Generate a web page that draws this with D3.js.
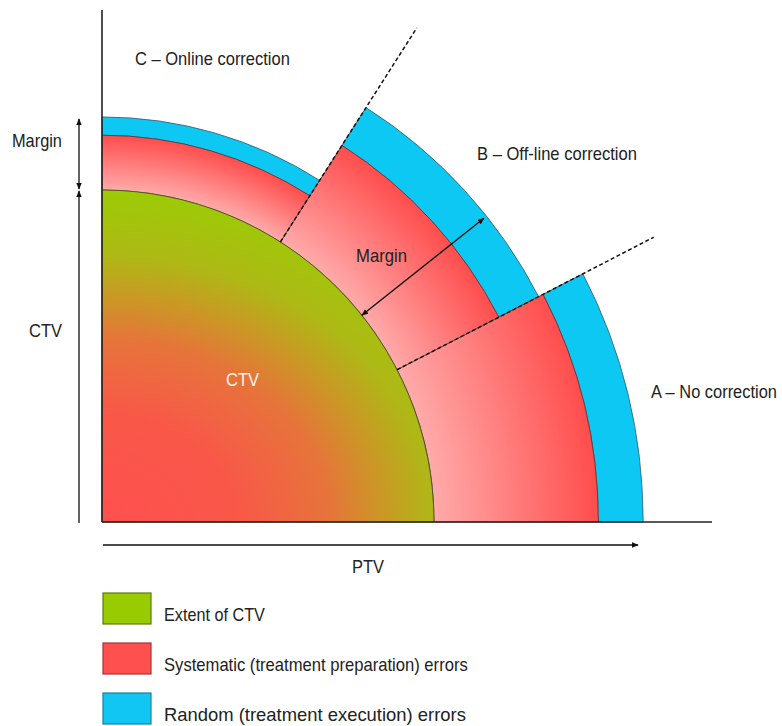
<!DOCTYPE html>
<html><head><meta charset="utf-8">
<script src="https://cdn.jsdelivr.net/npm/d3@7"></script>
<style>body{margin:0;background:#fff}svg{display:block}</style>
</head><body>
<script>
// ---- data (relative units: CTV radius = 100) ----
const sectors = ["A – No correction", "B – Off-line correction", "C – Online correction"];
const sectorFromDeg = [0, 27.3, 57.5];     // angle measured from PTV axis
const sectorToDeg = [27.3, 57.5, 90];
const ctvExtent = 100;
const systematicOuter = [149.5, 134.5, 116.5];
const randomOuter = [163, 148, 122];
const legendLabels = ["Extent of CTV", "Systematic (treatment preparation) errors", "Random (treatment execution) errors"];
const axisLabels = ["PTV", "CTV", "Margin"];

// ---- layout ----
const W = 782, H = 726;
const ox = 102, oy = 522;
const r = d3.scaleLinear().domain([0, 100]).range([0, 332]);
const rad = d => d * Math.PI / 180;
const font = "'Liberation Sans', Arial, sans-serif";

const svg = d3.select("body").append("svg").attr("width", W).attr("height", H);
const defs = svg.append("defs");

// arrow markers
function marker(id) {
  defs.append("marker").attr("id", id).attr("viewBox", "0 -5 10 10")
    .attr("refX", 9).attr("refY", 0).attr("markerWidth", 7).attr("markerHeight", 7)
    .attr("orient", "auto-start-reverse").attr("markerUnits", "userSpaceOnUse")
    .append("path").attr("d", "M0,-4L10,0L0,4Z").attr("fill", "#111");
}
marker("arr");

// CTV gradient
const cg = defs.append("radialGradient").attr("id", "ctvGrad")
  .attr("gradientUnits", "userSpaceOnUse").attr("cx", 0).attr("cy", 0).attr("r", r(ctvExtent))
  .attr("gradientTransform", "scale(1.25,1)");
[[0, "#ff5050"], [0.33, "#f85848"], [0.55, "#e6743a"], [0.67, "#cc9626"], [0.8, "#aeb816"], [1, "#9ccb05"]]
  .forEach(([o, c]) => cg.append("stop").attr("offset", o).attr("stop-color", c));

// systematic band gradients
systematicOuter.forEach((v, i) => {
  const g = defs.append("radialGradient").attr("id", "sysGrad" + i)
    .attr("gradientUnits", "userSpaceOnUse").attr("cx", 0).attr("cy", 0).attr("r", r(v));
  g.append("stop").attr("offset", ctvExtent / v).attr("stop-color", "#ffaaaa");
  g.append("stop").attr("offset", 1).attr("stop-color", "#ff4d4d");
});

const g = svg.append("g").attr("transform", `translate(${ox},${oy})`);
const arc = d3.arc();
const arcAngles = i => ({ startAngle: Math.PI / 2 - rad(sectorToDeg[i]), endAngle: Math.PI / 2 - rad(sectorFromDeg[i]) });

// random error bands
sectors.forEach((s, i) => {
  g.append("path").attr("d", arc({ ...arcAngles(i), innerRadius: r(systematicOuter[i]), outerRadius: r(randomOuter[i]) }))
    .attr("fill", "#0ec8f4").attr("stroke", "#335566").attr("stroke-width", 0.8);
});
// systematic bands
sectors.forEach((s, i) => {
  g.append("path").attr("d", arc({ ...arcAngles(i), innerRadius: r(ctvExtent), outerRadius: r(systematicOuter[i]) }))
    .attr("fill", `url(#sysGrad${i})`).attr("stroke", "#553333").attr("stroke-width", 0.8);
});
// CTV
g.append("path").attr("d", arc({ startAngle: 0, endAngle: Math.PI / 2, innerRadius: 0, outerRadius: r(ctvExtent) }))
  .attr("fill", "url(#ctvGrad)").attr("stroke", "#444422").attr("stroke-width", 0.8);

// dashed sector boundaries
const boundaryEnd = [187, 176.5];
[sectorToDeg[0], sectorToDeg[1]].forEach((a, i) => {
  g.append("line")
    .attr("x1", r(ctvExtent) * Math.cos(rad(a))).attr("y1", -r(ctvExtent) * Math.sin(rad(a)))
    .attr("x2", r(boundaryEnd[i]) * Math.cos(rad(a))).attr("y2", -r(boundaryEnd[i]) * Math.sin(rad(a)))
    .attr("stroke", "#111").attr("stroke-width", 1.5).attr("stroke-dasharray", "4,2.5");
});

// margin arrow in sector B
const ma = 38.5;
g.append("line")
  .attr("x1", r(ctvExtent) * Math.cos(rad(ma))).attr("y1", -r(ctvExtent) * Math.sin(rad(ma)))
  .attr("x2", r(randomOuter[1] - 1) * Math.cos(rad(ma))).attr("y2", -r(randomOuter[1] - 1) * Math.sin(rad(ma)))
  .attr("stroke", "#111").attr("stroke-width", 1.4)
  .attr("marker-start", "url(#arr)").attr("marker-end", "url(#arr)");

// axes
svg.append("line").attr("x1", ox).attr("y1", 10).attr("x2", ox).attr("y2", oy)
  .attr("stroke", "#222").attr("stroke-width", 1.6);
svg.append("line").attr("x1", ox).attr("y1", oy).attr("x2", 712).attr("y2", oy)
  .attr("stroke", "#222").attr("stroke-width", 1.6);

// left arrows (margin & CTV)
const ax = 79;
svg.append("line").attr("x1", ax).attr("y1", oy - r(randomOuter[2]) + 2).attr("x2", ax).attr("y2", oy - r(ctvExtent) - 1)
  .attr("stroke", "#222").attr("stroke-width", 1.4)
  .attr("marker-start", "url(#arr)").attr("marker-end", "url(#arr)");
svg.append("line").attr("x1", ax).attr("y1", oy + 1).attr("x2", ax).attr("y2", oy - r(ctvExtent) + 1)
  .attr("stroke", "#222").attr("stroke-width", 1.4)
  .attr("marker-end", "url(#arr)");

// PTV arrow
svg.append("line").attr("x1", 103).attr("y1", 545).attr("x2", 638).attr("y2", 545)
  .attr("stroke", "#111").attr("stroke-width", 1.4).attr("marker-end", "url(#arr)");

// texts (horizontally condensed to the reference widths via a scale transform)
function txt(s, x, y, len, opts = {}) {
  const t = svg.append("text").attr("x", 0).attr("y", 0).text(s)
    .attr("font-family", font).attr("font-size", opts.size || 18)
    .attr("fill", opts.fill || "#222");
  const natural = t.node().getComputedTextLength() || len;
  t.attr("transform", `translate(${x},${y}) scale(${len / natural},1)`);
}
txt(sectors[2], 135, 65, 155);
txt(sectors[1], 477, 160, 160);
txt(sectors[0], 651, 398, 126);
txt(axisLabels[2], 12, 147, 50);
txt(axisLabels[1], 29, 337, 33);
txt(axisLabels[1], 226, 386, 33, { fill: "#fff6ea" });
txt(axisLabels[2], 356, 262, 51);
txt(axisLabels[0], 352, 573, 32);

// legend
const legFill = ["#99cc00", "#ff5050", "#12c6f4"];
const legStroke = ["#5a7a10", "#a83232", "#1a7fa0"];
legendLabels.forEach((l, i) => {
  const y = 593 + i * 50;
  svg.append("rect").attr("x", 103).attr("y", y).attr("width", 48).attr("height", 31)
    .attr("fill", legFill[i]).attr("stroke", legStroke[i]).attr("stroke-width", 1.2);
  txt(l, 164, y + 28, [101, 304, 302][i]);
});
</script>
</body></html>
